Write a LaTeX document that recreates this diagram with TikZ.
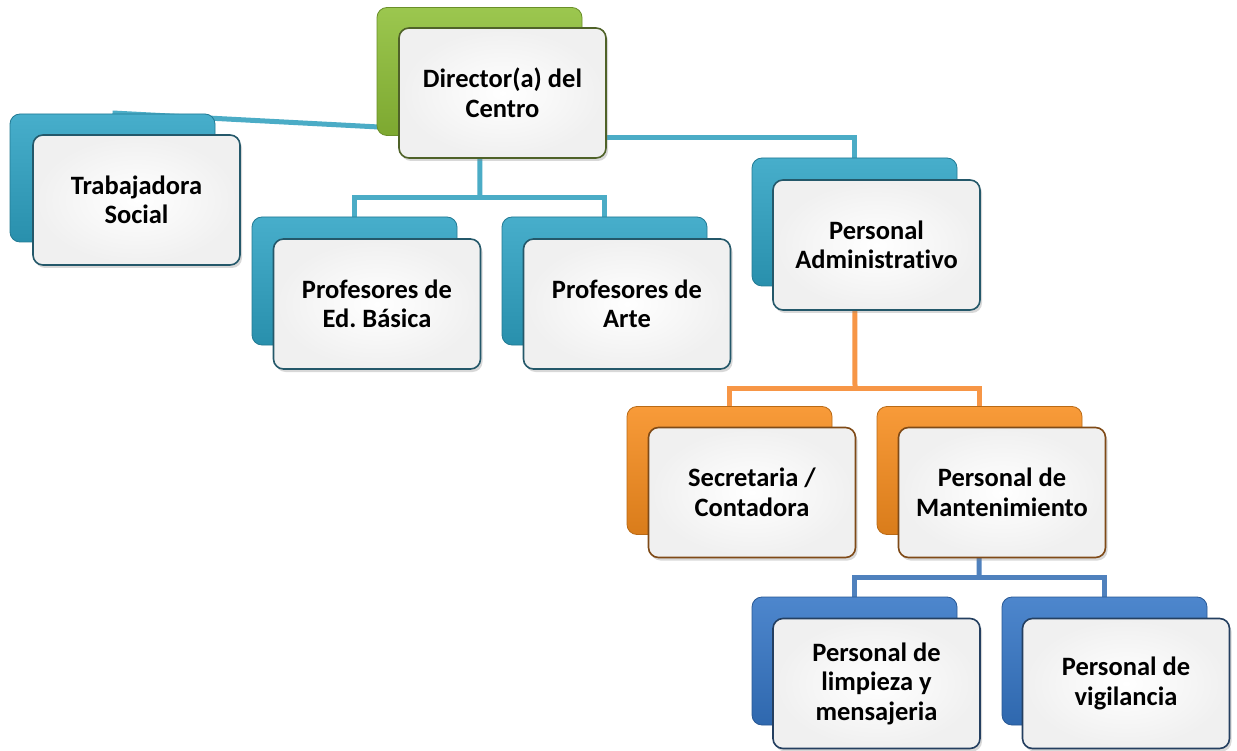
\documentclass[tikz,border=0pt]{standalone}
\usepackage{fontspec}
\setmainfont[Ligatures=NoCommon]{Carlito}
\frenchspacing
\usetikzlibrary{shadows,calc}
\definecolor{cteal}{HTML}{2EA3C4}
\definecolor{cgreen}{HTML}{8EBF37}
\definecolor{corange}{HTML}{F78D1E}
\definecolor{cblue}{HTML}{3576C6}
\definecolor{lteal}{HTML}{4BACC6}
\definecolor{lorange}{HTML}{F79646}
\definecolor{lblue}{HTML}{4F81BD}
\definecolor{dteal}{HTML}{24586A}
\definecolor{dgreen}{HTML}{4F6228}
\definecolor{dorange}{HTML}{7F4A17}
\definecolor{dblue}{HTML}{243F60}
\tikzset{
  backbox/.style={rounded corners=10pt, minimum width=205pt, minimum height=128pt, inner sep=0pt,
    draw=#1!75!black, line width=0.8pt, top color=#1!88!white, bottom color=#1!88!black},
  frontbox/.style={rounded corners=10pt, minimum width=207pt, minimum height=130pt, inner sep=0pt,
    draw=#1, line width=1.6pt, inner color=white, outer color=black!6,
    drop shadow={opacity=0.3, shadow xshift=2pt, shadow yshift=-3pt},
    align=center, font=\bfseries\fontsize{26.5}{29.5}\selectfont},
  conn/.style={line width=5pt, draw=#1}
}
\begin{document}
\begin{tikzpicture}[x=1pt,y=-1pt]
\useasboundingbox (0,0) rectangle (1237,751);
\fill[white] (0,0) rectangle (1237,751);
\path
  (479.5,71.5) coordinate (dirC)
  (112.5,178) coordinate (trbC)
  (354.5,281) coordinate (pebC)
  (604.5,281) coordinate (parC)
  (854.5,222) coordinate (admC)
  (729.5,470.5) coordinate (secC)
  (979.5,470.5) coordinate (manC)
  (854.5,661) coordinate (limC)
  (1104.5,661) coordinate (vigC);
\coordinate (j1) at (480,198);
\coordinate (j2) at (855,388);
\coordinate (j3) at (979,577);
\coordinate (tsEnd) at (398,128);
\coordinate (adStart) at (607,138);
% connectors
\draw[conn=lteal] ($(trbC)+(0,-65)$) -- (tsEnd);
\draw[conn=lteal] (dirC) -- (j1);
\draw[conn=lteal] ($(pebC)+(0,-64)$) |- (j1) -| ($(parC)+(0,-64)$);
\draw[conn=lteal] (adStart) -| ($(admC)+(0,-64)$);
\draw[conn=lorange] (admC) -- (j2);
\draw[conn=lorange] ($(secC)+(0,-63)$) |- (j2) -| ($(manC)+(0,-63)$);
\draw[conn=lblue] (manC) -- (j3);
\draw[conn=lblue] ($(limC)+(0,-64)$) |- (j3) -| ($(vigC)+(0,-64)$);
% boxes
\node[backbox=cgreen] (dirB) at (dirC) {};
\node[frontbox=dgreen] (dirF) at (502.5,93) {Director(a) del\\Centro};
\node[backbox=cteal] (trbB) at (trbC) {};
\node[frontbox=dteal] (trbF) at (136.5,200) {Trabajadora\\Social};
\node[backbox=cteal] (pebB) at (pebC) {};
\node[frontbox=dteal] (pebF) at (377,304) {Profesores de\\Ed. Básica};
\node[backbox=cteal] (parB) at (parC) {};
\node[frontbox=dteal] (parF) at (627,304) {Profesores de\\Arte};
\node[backbox=cteal] (admB) at (admC) {};
\node[frontbox=dteal] (admF) at (876.5,245) {Personal\\Administrativo};
\node[backbox=corange] (secB) at (secC) {};
\node[frontbox=dorange] (secF) at (752,492.5) {Secretaria /\\Contadora};
\node[backbox=corange] (manB) at (manC) {};
\node[frontbox=dorange] (manF) at (1002,492.5) {Personal de\\Mantenimiento};
\node[backbox=cblue] (limB) at (limC) {};
\node[frontbox=dblue] (limF) at (876.5,683.5) {Personal de\\limpieza y\\mensajeria};
\node[backbox=cblue] (vigB) at (vigC) {};
\node[frontbox=dblue] (vigF) at (1126,683.5) {Personal de\\vigilancia};
\end{tikzpicture}
\end{document}
